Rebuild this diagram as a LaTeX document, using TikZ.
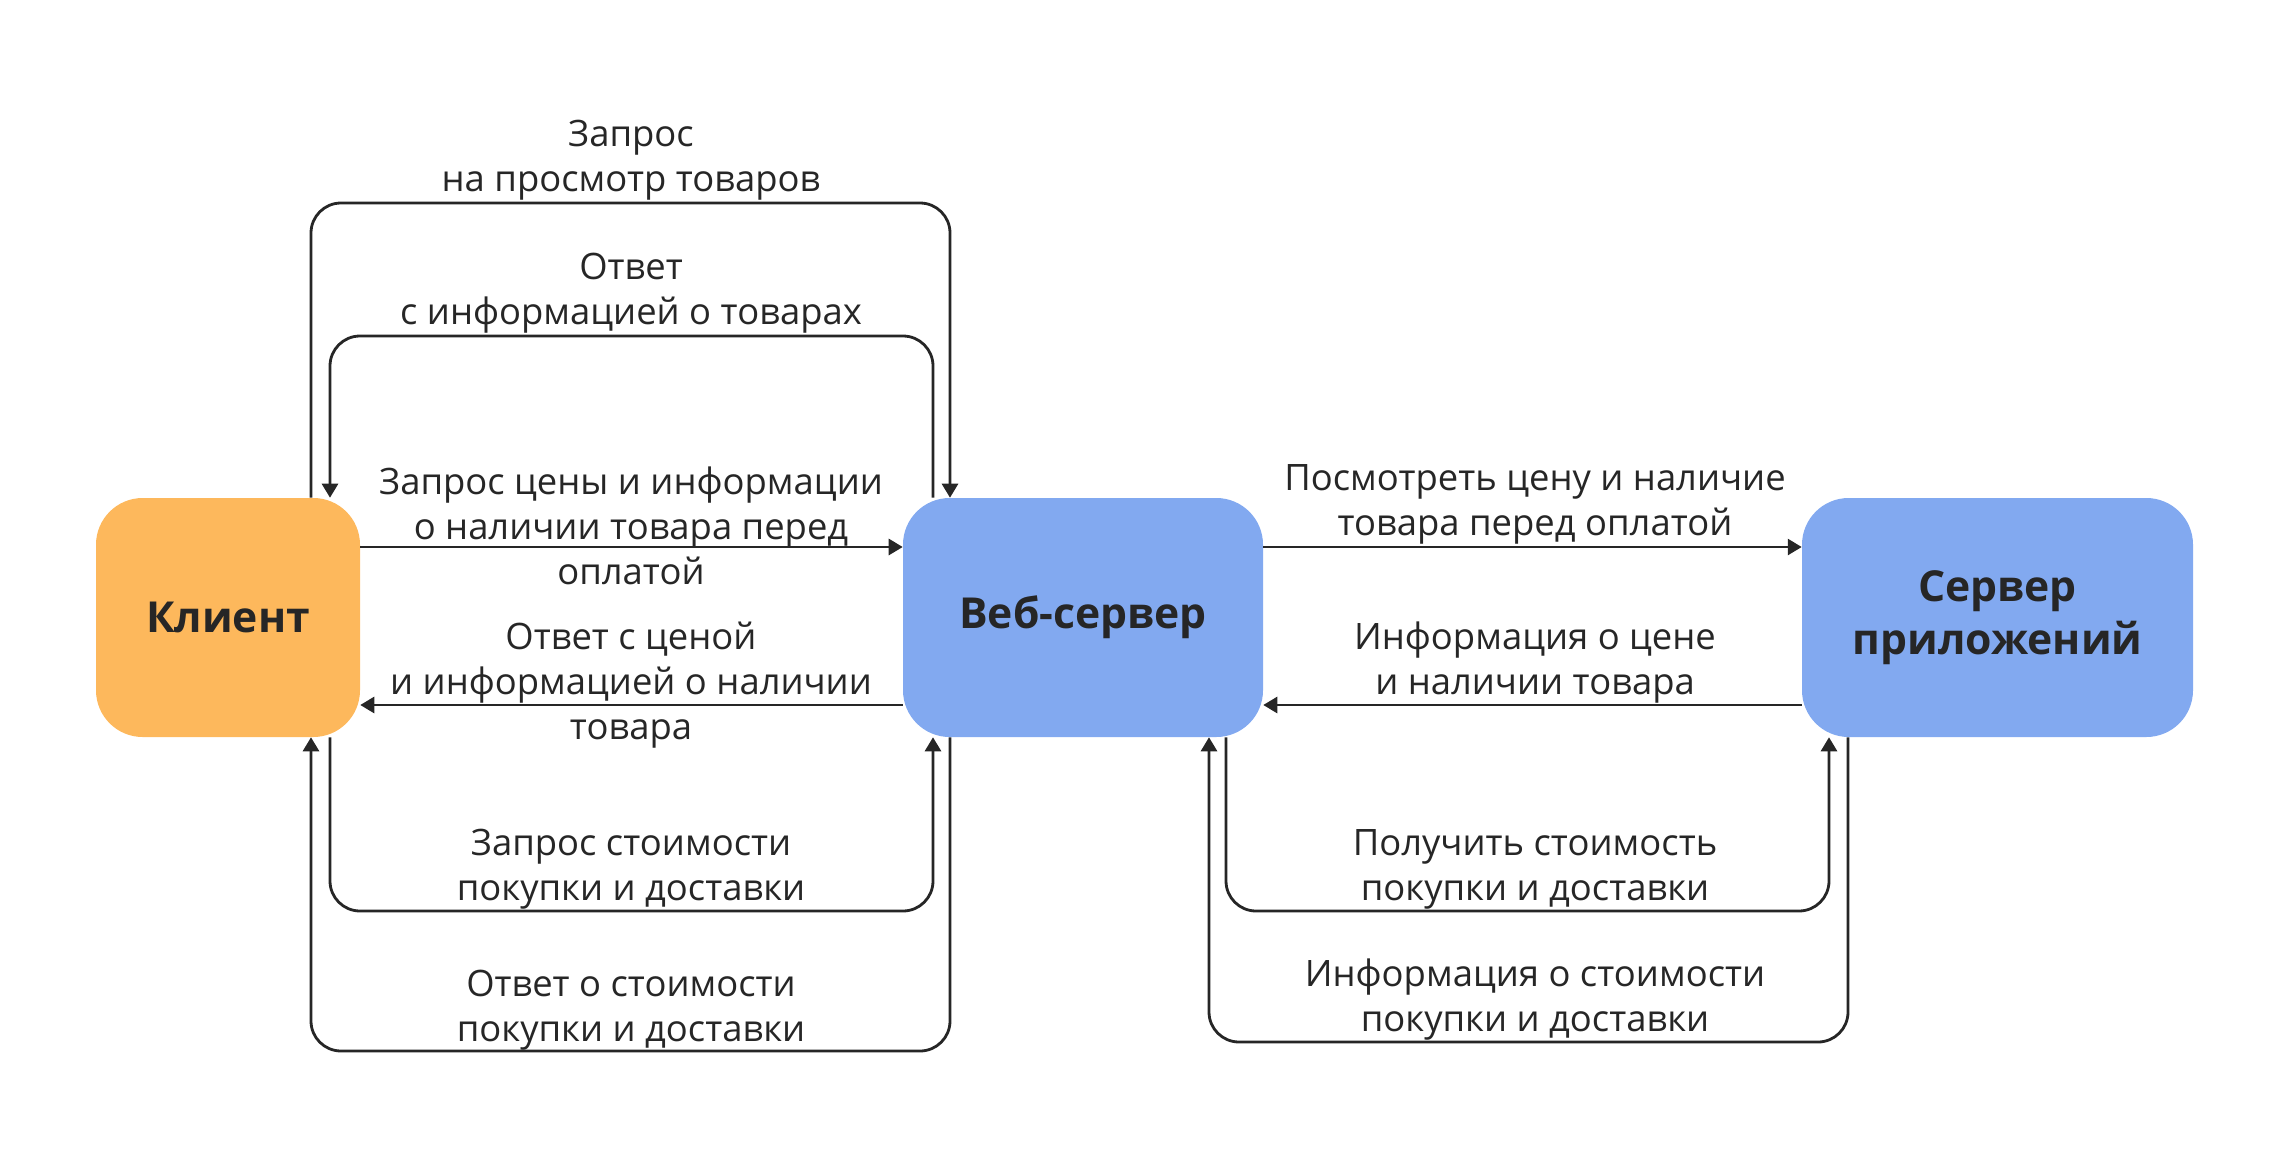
\documentclass[tikz,border=0pt]{standalone}
\usepackage{fontspec}
\setmainfont{Open Sans}
\usetikzlibrary{arrows.meta,calc}
\definecolor{orangebox}{HTML}{FDB85C}
\definecolor{bluebox}{HTML}{82A9F0}
\definecolor{ink}{HTML}{262626}
\begin{document}
\begin{tikzpicture}[x=0.75pt,y=-0.75pt,
  box/.style={rectangle, rounded corners=35pt, minimum height=179.25pt, text=ink, align=center,
    font=\fontsize{32}{40}\selectfont\bfseries},
  conn/.style={draw=ink, line width=2.1pt, rounded corners=22.5pt},
  arr/.style={conn, -{Triangle[length=10.5pt,width=12pt]}},
  lab/.style={align=center, text=ink, inner sep=0pt, font=\fontsize{27.3}{33.75}\selectfont}]
\useasboundingbox (0,0) rectangle (2292,1164);
% boxes
\node[box, fill=orangebox, minimum width=198pt] (cl) at (228,617.5) {Клиент};
\node[box, fill=bluebox, minimum width=270pt] (ws) at (1083,617.5) {Веб-сервер};
\node[box, fill=bluebox, minimum width=293.25pt] (as) at (1997.5,617.5) {Сервер\\приложений};
% helper coordinates
\coordinate (xA) at (311,0);
\coordinate (xB) at (330,0);
\coordinate (xC) at (933,0);
\coordinate (xD) at (950,0);
\coordinate (xE) at (1209,0);
\coordinate (xF) at (1226,0);
\coordinate (xG) at (1829,0);
\coordinate (xH) at (1848,0);
\coordinate (yT1) at (0,203);
\coordinate (yT2) at (0,336);
\coordinate (yR1) at (0,547);
\coordinate (yR2) at (0,705);
\coordinate (yB1) at (0,911);
\coordinate (yB2) at (0,1051);
\coordinate (yB3) at (0,1042);
% top loops
\draw[arr] (cl.north -| xA) -- (xA |- yT1) -- (xD |- yT1) -- (ws.north -| xD);
\draw[arr] (ws.north -| xC) -- (xC |- yT2) -- (xB |- yT2) -- (cl.north -| xB);
% straight arrows
\draw[arr] (cl.east |- yR1) -- (ws.west |- yR1);
\draw[arr] (ws.west |- yR2) -- (cl.east |- yR2);
\draw[arr] (ws.east |- yR1) -- (as.west |- yR1);
\draw[arr] (as.west |- yR2) -- (ws.east |- yR2);
% bottom loops left
\draw[arr] (cl.south -| xB) -- (xB |- yB1) -- (xC |- yB1) -- (ws.south -| xC);
\draw[arr] (ws.south -| xD) -- (xD |- yB2) -- (xA |- yB2) -- (cl.south -| xA);
% bottom loops right
\draw[arr] (ws.south -| xF) -- (xF |- yB1) -- (xG |- yB1) -- (as.south -| xG);
\draw[arr] (as.south -| xH) -- (xH |- yB3) -- (xE |- yB3) -- (ws.south -| xE);
% labels
\node[lab] (l1) at (631,160) {Запрос\\на просмотр товаров};
\node[lab] (l2) at (631,293) {Ответ\\с информацией о товарах};
\node[lab] (l3) at (631,526) {Запрос цены и информации\\о наличии товара перед\\оплатой};
\node[lab] (l4) at (631,685) {Ответ с ценой\\и информацией о наличии\\товара};
\node[lab] (l5) at (631,869) {Запрос стоимости\\покупки и доставки};
\node[lab] (l6) at (631,1010) {Ответ о стоимости\\покупки и доставки};
\node[lab] (r1) at (1535,504) {Посмотреть цену и наличие\\товара перед оплатой};
\node[lab] (r2) at (1535,663) {Информация о цене\\и наличии товара};
\node[lab] (r3) at (1535,869) {Получить стоимость\\покупки и доставки};
\node[lab] (r4) at (1535,1000) {Информация о стоимости\\покупки и доставки};
\end{tikzpicture}
\end{document}
